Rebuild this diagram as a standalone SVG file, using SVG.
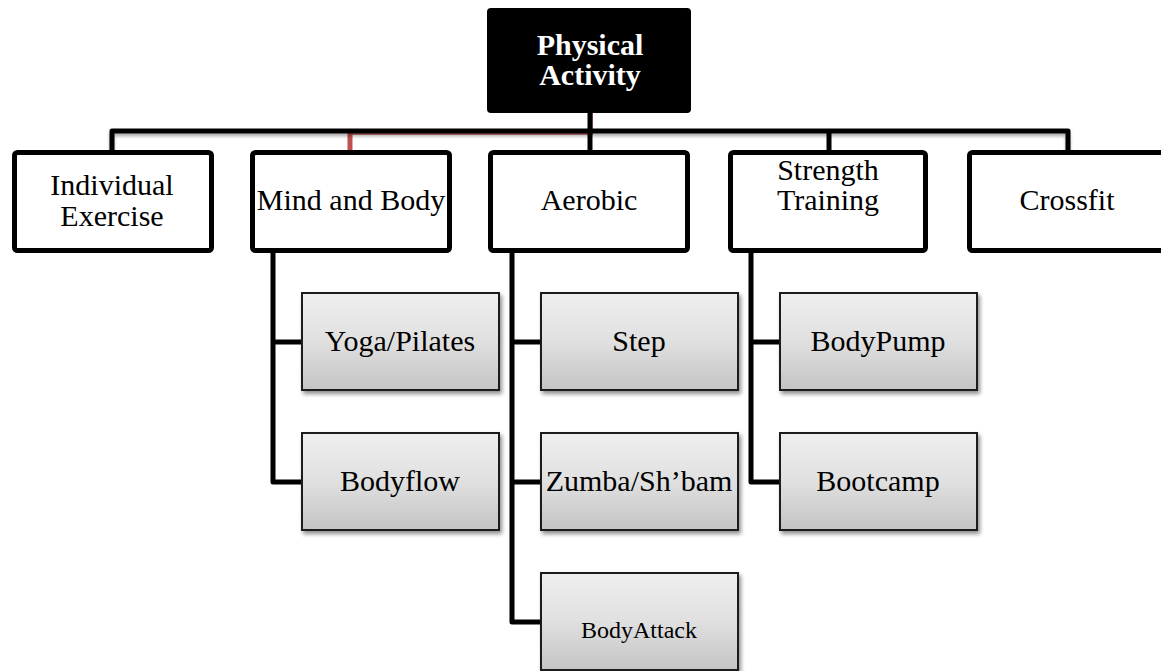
<svg xmlns="http://www.w3.org/2000/svg" width="1161" height="671" viewBox="0 0 1161 671">
  <defs>
    <linearGradient id="gfill" x1="0" y1="0" x2="0" y2="1">
      <stop offset="0" stop-color="#efefef"/>
      <stop offset="0.5" stop-color="#e0e0e0"/>
      <stop offset="1" stop-color="#c4c4c4"/>
    </linearGradient>
    <filter id="shadow" x="-10%" y="-10%" width="125%" height="130%">
      <feGaussianBlur in="SourceAlpha" stdDeviation="2"/>
      <feOffset dx="2" dy="3" result="b"/>
      <feComponentTransfer><feFuncA type="linear" slope="0.45"/></feComponentTransfer>
      <feMerge><feMergeNode/><feMergeNode in="SourceGraphic"/></feMerge>
    </filter>
    <filter id="lshadow" x="-5%" y="-50%" width="110%" height="300%">
      <feGaussianBlur in="SourceAlpha" stdDeviation="1.5"/>
      <feOffset dx="0" dy="3" result="b"/>
      <feComponentTransfer><feFuncA type="linear" slope="0.3"/></feComponentTransfer>
      <feMerge><feMergeNode/><feMergeNode in="SourceGraphic"/></feMerge>
    </filter>
  </defs>
  <style>
    .conn { fill: none; stroke: #000; stroke-width: 5; stroke-linejoin: round; }
    .red { fill: none; stroke: #c0504d; }
    .l1 { fill: #fff; stroke: #000; stroke-width: 5; }
    .child { fill: url(#gfill); stroke: #1a1a1a; stroke-width: 2; filter: url(#shadow); }
    .t { font-family: "Liberation Serif", "Times New Roman", serif; font-size: 30px; fill: #000; text-anchor: middle; }
    .small { font-size: 24px; }
    .root { font-family: "Liberation Serif", "Times New Roman", serif; font-size: 30px; font-weight: bold; fill: #fff; text-anchor: middle; }
  </style>
  <rect width="1161" height="671" fill="#fff"/>

  <g id="connectors">
    <path class="red" stroke-width="1.5" d="M 592 113 V 134 H 349"/>
    <path class="red" stroke-width="5" d="M 350 133 V 151"/>
    <g filter="url(#lshadow)">
      <path class="conn" d="M 112 151 V 131 H 1068 V 151"/>
    </g>
    <path class="conn" d="M 590 113 V 131"/>
    <path class="conn" d="M 590 131 V 151"/>
    <path class="conn" d="M 829 131 V 151"/>
    <path class="conn" d="M 273 252 V 482 H 302"/>
    <path class="conn" d="M 273 342 H 302"/>
    <path class="conn" d="M 512 252 V 622 H 541"/>
    <path class="conn" d="M 512 342 H 541"/>
    <path class="conn" d="M 512 482 H 541"/>
    <path class="conn" d="M 751 252 V 482 H 780"/>
    <path class="conn" d="M 751 342 H 780"/>
  </g>

  <g id="root">
    <rect x="487" y="8" width="204" height="105" rx="4" fill="#000"/>
    <text class="root" x="590" y="55">Physical</text>
    <text class="root" x="590" y="85">Activity</text>
  </g>

  <g id="individual-exercise">
    <rect class="l1" x="14.5" y="152.5" width="197" height="98" rx="3"/>
    <text class="t" x="112" y="195">Individual</text>
    <text class="t" x="112" y="226">Exercise</text>
  </g>
  <g id="mind-and-body">
    <rect class="l1" x="252.5" y="152.5" width="197" height="98" rx="3"/>
    <text class="t" x="351" y="210">Mind and Body</text>
  </g>
  <g id="aerobic">
    <rect class="l1" x="490.5" y="152.5" width="197" height="98" rx="3"/>
    <text class="t" x="589" y="210">Aerobic</text>
  </g>
  <g id="strength-training">
    <rect class="l1" x="730.5" y="152.5" width="195" height="98" rx="3"/>
    <text class="t" x="828" y="180">Strength</text>
    <text class="t" x="828" y="210">Training</text>
  </g>
  <g id="crossfit">
    <rect class="l1" x="969.5" y="152.5" width="197" height="98" rx="3"/>
    <text class="t" x="1067" y="210">Crossfit</text>
  </g>

  <g id="yoga-pilates">
    <rect class="child" x="302" y="293" width="197" height="97"/>
    <text class="t" x="400" y="351">Yoga/Pilates</text>
  </g>
  <g id="bodyflow">
    <rect class="child" x="302" y="433" width="197" height="97"/>
    <text class="t" x="400" y="491">Bodyflow</text>
  </g>
  <g id="step">
    <rect class="child" x="541" y="293" width="197" height="97"/>
    <text class="t" x="639" y="351">Step</text>
  </g>
  <g id="zumba-shbam">
    <rect class="child" x="541" y="433" width="197" height="97"/>
    <text class="t" x="639" y="491">Zumba/Sh’bam</text>
  </g>
  <g id="bodyattack">
    <rect class="child" x="541" y="573" width="197" height="97"/>
    <text class="t small" x="639" y="638">BodyAttack</text>
  </g>
  <g id="bodypump">
    <rect class="child" x="780" y="293" width="197" height="97"/>
    <text class="t" x="878" y="351">BodyPump</text>
  </g>
  <g id="bootcamp">
    <rect class="child" x="780" y="433" width="197" height="97"/>
    <text class="t" x="878" y="491">Bootcamp</text>
  </g>
</svg>
